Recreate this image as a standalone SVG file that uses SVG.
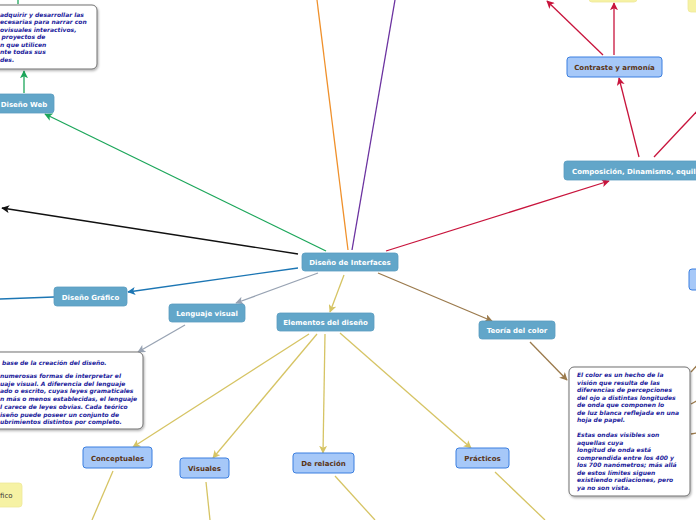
<svg xmlns="http://www.w3.org/2000/svg" width="696" height="520" viewBox="0 0 696 520">
<style>
.dk rect{fill:#62a6c9;stroke:#5a9dc0;stroke-width:0.8}
.dk text{fill:#fff;font-family:"DejaVu Sans",Verdana,sans-serif;font-weight:bold;font-size:7px;text-anchor:middle}
.lt rect{fill:#a6c8f8;stroke:#3b7fe0;stroke-width:1}
.lt text{fill:#5a3414;font-family:"DejaVu Sans",Verdana,sans-serif;font-weight:bold;font-size:7px;text-anchor:middle}
.yl rect{fill:#f6f2a4;stroke:#efe99a;stroke-width:0.8}
.yl text{fill:#333;font-family:"DejaVu Sans",Verdana,sans-serif;font-size:7px}
.note rect{fill:#fff;stroke:#707070;stroke-width:1;filter:url(#sh)}
.note text{fill:#1c1c9c;font-family:"DejaVu Sans",Verdana,sans-serif;font-weight:bold;font-style:italic;font-size:6px}
.c path,.c line{fill:none;stroke-width:1.3}
</style>
<defs>
<filter id="sh" x="-10%" y="-10%" width="130%" height="130%"><feDropShadow dx="1" dy="1.5" stdDeviation="1" flood-color="#000" flood-opacity="0.3"/></filter>
<marker id="mg" viewBox="0 0 10 10" refX="9" refY="5" markerWidth="8" markerHeight="8" markerUnits="userSpaceOnUse" orient="auto"><path d="M0,0 L10,5 L0,10 L2.5,5 Z" fill="#1ca65a"/></marker>
<marker id="mk" viewBox="0 0 10 10" refX="9" refY="5" markerWidth="8" markerHeight="8" markerUnits="userSpaceOnUse" orient="auto"><path d="M0,0 L10,5 L0,10 L2.5,5 Z" fill="#111"/></marker>
<marker id="mb" viewBox="0 0 10 10" refX="9" refY="5" markerWidth="8" markerHeight="8" markerUnits="userSpaceOnUse" orient="auto"><path d="M0,0 L10,5 L0,10 L2.5,5 Z" fill="#1c76b4"/></marker>
<marker id="ma" viewBox="0 0 10 10" refX="9" refY="5" markerWidth="8" markerHeight="8" markerUnits="userSpaceOnUse" orient="auto"><path d="M0,0 L10,5 L0,10 L2.5,5 Z" fill="#98a3b3"/></marker>
<marker id="mr" viewBox="0 0 10 10" refX="9" refY="5" markerWidth="8" markerHeight="8" markerUnits="userSpaceOnUse" orient="auto"><path d="M0,0 L10,5 L0,10 L2.5,5 Z" fill="#c8143c"/></marker>
<marker id="mt" viewBox="0 0 10 10" refX="9" refY="5" markerWidth="8" markerHeight="8" markerUnits="userSpaceOnUse" orient="auto"><path d="M0,0 L10,5 L0,10 L2.5,5 Z" fill="#9b7a4c"/></marker>
<marker id="my" viewBox="0 0 10 10" refX="9" refY="5" markerWidth="8" markerHeight="8" markerUnits="userSpaceOnUse" orient="auto"><path d="M0,0 L10,5 L0,10 L2.5,5 Z" fill="#d6c464"/></marker>
</defs>
<rect width="696" height="520" fill="#fff"/>

<g id="connectors" class="c">
<line x1="326" y1="251" x2="45" y2="114" stroke="#1ca65a" marker-end="url(#mg)"/>
<line x1="24" y1="93" x2="24" y2="71" stroke="#1ca65a" marker-end="url(#mg)"/>
<line x1="18" y1="0" x2="18" y2="4" stroke="#1ca65a"/>
<line x1="298" y1="254" x2="2" y2="208" stroke="#111" marker-end="url(#mk)"/>
<line x1="298" y1="268" x2="128" y2="292" stroke="#1c76b4" marker-end="url(#mb)"/>
<line x1="54" y1="297" x2="0" y2="299" stroke="#1c76b4"/>
<line x1="318" y1="273" x2="236" y2="303" stroke="#98a3b3" marker-end="url(#ma)"/>
<line x1="185" y1="325" x2="138" y2="352" stroke="#98a3b3" marker-end="url(#ma)"/>
<line x1="348" y1="250" x2="317" y2="0" stroke="#f0902a"/>
<line x1="352" y1="250" x2="395" y2="0" stroke="#6b32a0"/>
<line x1="386" y1="251" x2="609" y2="181" stroke="#c8143c" marker-end="url(#mr)"/>
<line x1="639" y1="157" x2="619" y2="78" stroke="#c8143c" marker-end="url(#mr)"/>
<line x1="654" y1="157" x2="700" y2="108" stroke="#c8143c"/>
<line x1="603" y1="55" x2="547" y2="1" stroke="#c8143c" marker-end="url(#mr)"/>
<line x1="614" y1="55" x2="614" y2="3" stroke="#c8143c" marker-end="url(#mr)"/>
<line x1="378" y1="273" x2="492" y2="321" stroke="#9b7a4c" marker-end="url(#mt)"/>
<line x1="530" y1="342" x2="567" y2="380" stroke="#9b7a4c" marker-end="url(#mt)"/>
<line x1="691" y1="372" x2="702" y2="360" stroke="#9b7a4c"/>
<line x1="691" y1="404" x2="702" y2="398" stroke="#9b7a4c"/>
<line x1="691" y1="434" x2="702" y2="432" stroke="#9b7a4c"/>
<line x1="344" y1="275" x2="330" y2="312" stroke="#d6c464" marker-end="url(#my)"/>
<line x1="309" y1="334" x2="133" y2="447" stroke="#d6c464" marker-end="url(#my)"/>
<line x1="317" y1="334" x2="213" y2="458" stroke="#d6c464" marker-end="url(#my)"/>
<line x1="325" y1="334" x2="323" y2="453" stroke="#d6c464" marker-end="url(#my)"/>
<line x1="340" y1="333" x2="471" y2="448" stroke="#d6c464" marker-end="url(#my)"/>
<line x1="113" y1="471" x2="92" y2="520" stroke="#d6c464"/>
<line x1="206" y1="482" x2="210" y2="520" stroke="#d6c464"/>
<line x1="335" y1="476" x2="375" y2="520" stroke="#d6c464"/>
<line x1="495" y1="472" x2="545" y2="520" stroke="#d6c464"/>
</g>

<g id="n-interfaces" class="dk"><rect x="302" y="253" width="96" height="18" rx="3"/><text x="350" y="265">Diseño de Interfaces</text></g>
<g id="n-elementos" class="dk"><rect x="277" y="313" width="97" height="18" rx="3"/><text x="325.5" y="325">Elementos del diseño</text></g>
<g id="n-lenguaje" class="dk"><rect x="169" y="304" width="76" height="18" rx="3"/><text x="207" y="316">Lenguaje visual</text></g>
<g id="n-teoria" class="dk"><rect x="479" y="321" width="76" height="18" rx="3"/><text x="517" y="333">Teoría del color</text></g>
<g id="n-grafico" class="dk"><rect x="54" y="287" width="73" height="19" rx="3"/><text x="90.5" y="299.5">Diseño Gráfico</text></g>
<g id="n-web" class="dk"><rect x="-8" y="94" width="62" height="19" rx="3"/><text x="24" y="106.5">Diseño Web</text></g>
<g id="n-composicion" class="dk"><rect x="564" y="161" width="140" height="19" rx="3"/><text x="572" y="173.5" style="text-anchor:start">Composición, Dinamismo, equili</text></g>

<g id="n-contraste" class="lt"><rect x="567" y="57" width="95" height="20" rx="3"/><text x="614.5" y="70">Contraste y armonía</text></g>
<g id="n-conceptuales" class="lt"><rect x="83" y="447" width="69" height="21" rx="3"/><text x="117.5" y="460.5">Conceptuales</text></g>
<g id="n-visuales" class="lt"><rect x="180" y="458" width="49" height="20" rx="3"/><text x="204.5" y="471">Visuales</text></g>
<g id="n-relacion" class="lt"><rect x="293" y="453" width="61" height="20" rx="3"/><text x="323.5" y="466">De relación</text></g>
<g id="n-practicos" class="lt"><rect x="456" y="448" width="53" height="20" rx="3"/><text x="482.5" y="461">Prácticos</text></g>
<g id="n-right" class="lt"><rect x="689" y="269" width="20" height="21" rx="3"/></g>

<g id="n-yellow1" class="yl"><rect x="589" y="-10" width="48" height="12" rx="3"/></g>
<g id="n-yellow2" class="yl"><rect x="688" y="-10" width="20" height="22" rx="3"/></g>
<g id="n-yellow3" class="yl"><rect x="-10" y="483" width="32" height="24" rx="3"/><text x="0" y="497.5">fico</text></g>

<g id="note-web" class="note"><rect x="-10" y="5" width="107" height="64" rx="5"/>
<text x="0" y="16.5">adquirir y desarrollar las</text>
<text x="0" y="24">ecesarias para narrar con</text>
<text x="0" y="31.5">ovisuales interactivos,</text>
<text x="1.5" y="39">proyectos de</text>
<text x="0" y="46.5">n que utilicen</text>
<text x="0" y="54">nte todas sus</text>
<text x="0" y="61.5">des.</text>
</g>
<g id="note-lenguaje" class="note"><rect x="-10" y="352" width="153" height="77" rx="5"/>
<text x="2" y="364.5">base de la creación del diseño.</text>
<text x="0" y="378">numerosas formas de interpretar el</text>
<text x="0" y="385.7">uaje visual. A diferencia del lenguaje</text>
<text x="0" y="393.4">ado o escrito, cuyas leyes gramaticales</text>
<text x="0" y="401.1">n más o menos establecidas, el lenguaje</text>
<text x="0" y="408.8">l carece de leyes obvias. Cada teórico</text>
<text x="0" y="416.5">iseño puede poseer un conjunto de</text>
<text x="0" y="424.2">ubrimientos distintos por completo.</text>
</g>
<g id="note-color" class="note"><rect x="569" y="367" width="121" height="129" rx="5"/>
<text x="577" y="377">El color es un hecho de la</text>
<text x="577" y="384.5">visión que resulta de las</text>
<text x="577" y="392">diferencias de percepciones</text>
<text x="577" y="399.5">del ojo a distintas longitudes</text>
<text x="577" y="407">de onda que componen lo</text>
<text x="577" y="414.5">de luz blanca reflejada en una</text>
<text x="577" y="422">hoja de papel.</text>
<text x="577" y="437">Estas ondas visibles son</text>
<text x="577" y="444.5">aquellas cuya</text>
<text x="577" y="452">longitud de onda está</text>
<text x="577" y="459.5">comprendida entre los 400 y</text>
<text x="577" y="467">los 700 nanómetros; más allá</text>
<text x="577" y="474.5">de estos límites siguen</text>
<text x="577" y="482">existiendo radiaciones, pero</text>
<text x="577" y="489.5">ya no son vista.</text>
</g>
</svg>
